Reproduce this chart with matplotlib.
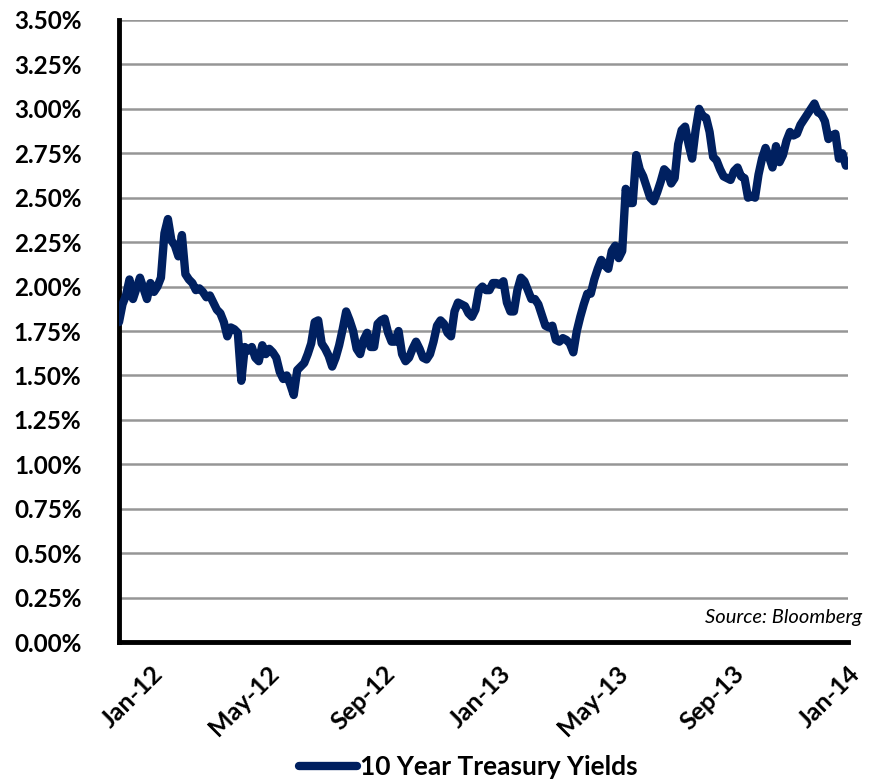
import matplotlib
matplotlib.use("Agg")
import matplotlib.pyplot as plt
import pandas as pd

ylds_2012a = [1.80, 1.90, 1.95, 2.04, 1.93, 1.99, 2.05, 1.99, 1.93, 2.02, 1.97, 2.00,
              2.05, 2.30, 2.38, 2.26, 2.23, 2.17, 2.29, 2.07, 2.04, 2.02, 1.98, 1.99,
              1.97, 1.94, 1.95, 1.91, 1.87, 1.85, 1.80, 1.72, 1.77, 1.76, 1.74, 1.47]
ylds_2012b = [1.66, 1.64, 1.66, 1.60, 1.58, 1.67, 1.62, 1.65, 1.63, 1.60, 1.52, 1.48,
              1.50, 1.45, 1.39, 1.53, 1.55, 1.57, 1.62, 1.68, 1.80, 1.81, 1.68, 1.65,
              1.61, 1.55, 1.60, 1.67, 1.76, 1.86, 1.81, 1.75, 1.65, 1.62, 1.70, 1.74]
ylds_2012c = [1.66, 1.66, 1.79, 1.81, 1.82, 1.74, 1.69, 1.69, 1.75, 1.62, 1.58, 1.60,
              1.65, 1.69, 1.65, 1.60, 1.59, 1.62, 1.69, 1.78, 1.81, 1.79, 1.74, 1.72,
              1.86, 1.91, 1.90, 1.89, 1.85, 1.83, 1.87, 1.98, 2.00, 1.98, 1.98, 2.02]
ylds_2013a = [2.02, 2.01, 2.03, 1.91, 1.86, 1.86, 1.98, 2.05, 2.03, 1.98, 1.93, 1.93,
              1.90, 1.84, 1.78, 1.77, 1.78, 1.70, 1.69, 1.71, 1.70, 1.68, 1.63, 1.75,
              1.83, 1.90, 1.96, 1.96, 2.04, 2.10, 2.15, 2.12, 2.10, 2.20, 2.23]
ylds_2013b = [2.16, 2.20, 2.55, 2.47, 2.47, 2.74, 2.66, 2.62, 2.56, 2.50, 2.48, 2.53,
              2.59, 2.66, 2.64, 2.58, 2.61, 2.80, 2.88, 2.90, 2.80, 2.72, 2.88, 3.00,
              2.96, 2.95, 2.87, 2.73, 2.71, 2.66, 2.62, 2.61, 2.60, 2.65, 2.67]
ylds_2013c = [2.62, 2.61, 2.50, 2.51, 2.50, 2.63, 2.72, 2.78, 2.73, 2.67, 2.79, 2.70,
              2.74, 2.82, 2.87, 2.85, 2.86, 2.91, 2.94, 2.97, 3.00, 3.03, 2.98, 2.97,
              2.93, 2.83, 2.85, 2.86, 2.72, 2.75, 2.68]

yields = ylds_2012a + ylds_2012b + ylds_2012c + ylds_2013a + ylds_2013b + ylds_2013c
dates = pd.date_range("2012-01-01", "2013-12-31", periods=len(yields))

y_ticks = [i * 0.25 for i in range(15)]
# where the category labels sit on the original (excel spaces them evenly)
x_tick_dates = pd.to_datetime(["2012-02-02", "2012-05-29", "2012-09-22", "2013-01-17",
                               "2013-05-14", "2013-09-08", "2014-01-02"])
x_tick_labels = ["Jan-12", "May-12", "Sep-12", "Jan-13", "May-13", "Sep-13", "Jan-14"]

navy = "#002060"
font = "Lato"

fig = plt.figure(figsize=(8.75, 7.83), dpi=100)
ax = fig.add_axes([0.136, 0.180, 0.833, 0.7945])

ax.plot(dates, yields, color=navy, lw=6, solid_joinstyle="round",
        solid_capstyle="round", label="10 Year Treasury Yields", zorder=3)

ax.set_ylim(0, 3.5)
ax.set_xlim(pd.Timestamp("2012-01-01"), pd.Timestamp("2014-01-01"))
ax.set_yticks(y_ticks)
ax.set_yticklabels([f"{v:.2f}%" for v in y_ticks], fontsize=17.5, fontweight="bold", family=font)

ax.set_xticks(x_tick_dates)
ax.set_xticklabels(x_tick_labels, fontsize=18, fontweight="bold", family=font,
                   rotation=45, ha="right", va="top", rotation_mode="anchor")

ax.tick_params(axis="y", length=0, pad=27)
ax.tick_params(axis="x", length=0, pad=14)

ax.grid(axis="y", color="#969696", lw=1.8, zorder=1)
ax.set_axisbelow(True)
for s in ["top", "right"]:
    ax.spines[s].set_visible(False)
for s in ["left", "bottom"]:
    ax.spines[s].set_linewidth(3.5)
    ax.spines[s].set_color("black")

ax.text(1.02, 0.04, "Source: Bloomberg", transform=ax.transAxes, ha="right", va="center",
        fontsize=14.5, style="italic", family=font)

fig.legend(loc="center", bbox_to_anchor=(0.535, 0.02), frameon=False, handlelength=2.2,
           handletextpad=0.1, prop={"family": font, "weight": "bold", "size": 19})

fig.savefig("out.png", dpi=100)
